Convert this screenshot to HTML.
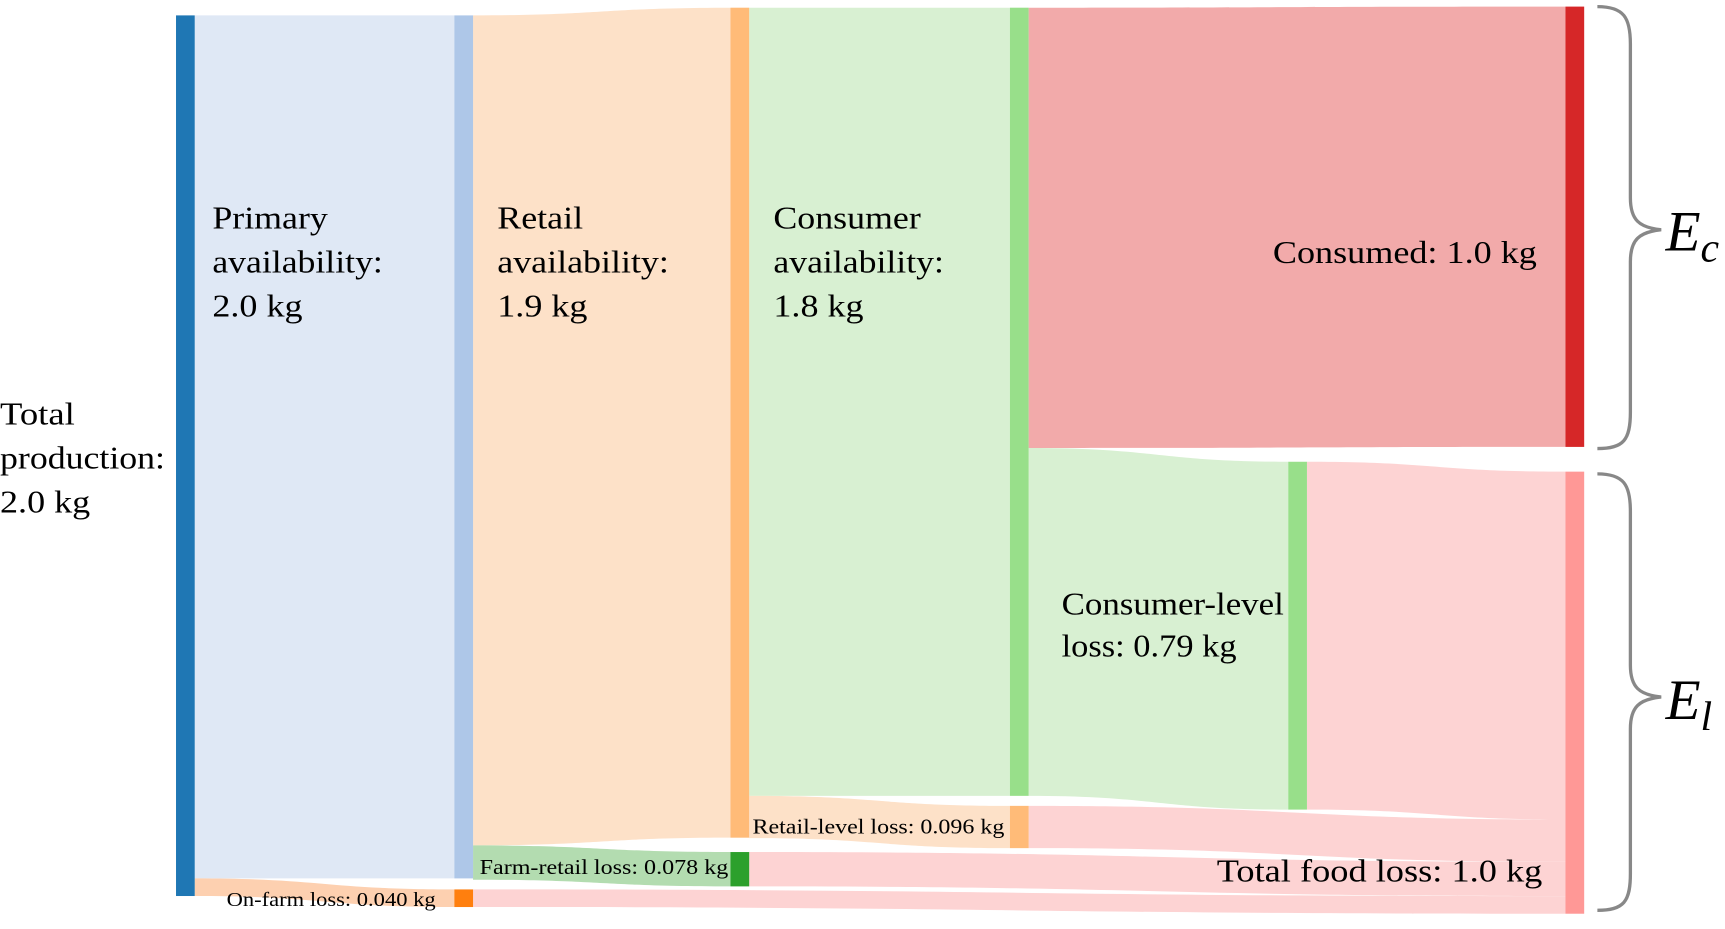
<!DOCTYPE html>
<html><head><meta charset="utf-8">
<style>
html,body{margin:0;padding:0;background:#fff;}
svg{display:block;}
text{font-family:"Liberation Serif",serif;fill:#000;}
</style></head>
<body>
<svg id="chart" width="1725" height="929" viewBox="0 0 1568 845" preserveAspectRatio="none" xmlns="http://www.w3.org/2000/svg">
<g id="links"></g>
<g id="nodes"></g>
<g id="labels" font-size="29">
  <g>
    <text x="0" y="386" textLength="68" lengthAdjust="spacingAndGlyphs">Total</text><text x="0" y="426" textLength="150" lengthAdjust="spacingAndGlyphs">production:</text><text x="0" y="466" textLength="82" lengthAdjust="spacingAndGlyphs">2.0 kg</text></g>
  <g>
    <text x="193" y="208" textLength="105" lengthAdjust="spacingAndGlyphs">Primary</text><text x="193" y="248" textLength="155" lengthAdjust="spacingAndGlyphs">availability:</text><text x="193" y="288" textLength="82" lengthAdjust="spacingAndGlyphs">2.0 kg</text></g>
  <g>
    <text x="452" y="208" textLength="78" lengthAdjust="spacingAndGlyphs">Retail</text><text x="452" y="248" textLength="156" lengthAdjust="spacingAndGlyphs">availability:</text><text x="452" y="288" textLength="82" lengthAdjust="spacingAndGlyphs">1.9 kg</text></g>
  <g>
    <text x="703" y="208" textLength="134" lengthAdjust="spacingAndGlyphs">Consumer</text><text x="703" y="248" textLength="155" lengthAdjust="spacingAndGlyphs">availability:</text><text x="703" y="288" textLength="82" lengthAdjust="spacingAndGlyphs">1.8 kg</text></g>
  <text x="1157" y="239" textLength="240" lengthAdjust="spacingAndGlyphs">Consumed: 1.0 kg</text>
  <g>
    <text x="965" y="559" textLength="202" lengthAdjust="spacingAndGlyphs">Consumer-level</text><text x="965" y="597" textLength="159" lengthAdjust="spacingAndGlyphs">loss: 0.79 kg</text></g>
  <text x="1106" y="802" textLength="296" lengthAdjust="spacingAndGlyphs">Total food loss: 1.0 kg</text>
  <text font-size="19" x="684" y="758" textLength="229" lengthAdjust="spacingAndGlyphs">Retail-level  loss: 0.096 kg</text>
  <text font-size="19" x="436" y="795" textLength="226" lengthAdjust="spacingAndGlyphs">Farm-retail  loss: 0.078 kg</text>
  <text font-size="18" x="206" y="824" textLength="190" lengthAdjust="spacingAndGlyphs">On-farm loss: 0.040 kg</text>
</g>
<g>
  <path d="M1452,6 C1476,6 1482,16 1482,40 L1482,180 C1482,200 1490,207 1510,209 C1490,211 1482,218 1482,238 L1482,375 C1482,400 1476,408 1452,408" fill="none" stroke="#888" stroke-width="3"/>
  <text x="1514" y="228" font-size="52" font-style="italic">E<tspan font-size="38" dy="10">c</tspan></text>
</g>
<g>
  <path d="M1452,431 C1476,431 1482,441 1482,465 L1482,605 C1482,625 1490,632 1510,634 C1490,636 1482,643 1482,663 L1482,795 C1482,820 1476,828 1452,828" fill="none" stroke="#888" stroke-width="3"/>
  <text x="1514" y="654" font-size="52" font-style="italic">E<tspan font-size="38" dy="10">l</tspan></text>
</g>
</svg>
<script>
// node data
const nodeNames = ["total","primary","onfarm","retail","farmretail","consumer","retaillevel","consumed","conslevel","totalloss"];
const nodeValues = [2.0, 1.96, 0.040, 1.885, 0.078, 1.79, 0.096, 1.0, 0.79, 1.004];
// link data
const linkSources = [0,0,1,1,3,3,5,5,8,6,4,2];
const linkTargets = [1,2,3,4,5,6,7,8,9,9,9,9];
const linkValues = [1.96,0.040,1.885,0.078,1.79,0.096,1.0,0.79,0.79,0.096,0.078,0.040];

// layout (not data)
const K = 400.5;
const nodeX = [160,413,413,664,664,918,918,1423,1171,1423];
const nodeTop = [14,14,809,7,775,7,733,6,420,429];
const nodeColors = ["#1f77b4","#aec7e8","#ff7f0e","#ffbb78","#2ca02c","#98df8a","#ffbb78","#d62728","#98df8a","#ff9896"];
const linkColors = ["#dfe8f5","#fdd0b0","#fde1c8","#b3dcb0","#d8f0d2","#fde1c8","#f2aaaa","#d8f0d2","#fdd3d3","#fdd3d3","#fdd3d3","#fdd3d3"];
const NW = 17;
const ns = "http://www.w3.org/2000/svg";
const h = v => v * K;
const outOff = nodeNames.map(()=>0), inOff = nodeNames.map(()=>0);
const linksG = document.getElementById('links');
linkValues.forEach((v,i)=>{
  const s=linkSources[i], t=linkTargets[i], w=h(v);
  const x0=nodeX[s]+NW, x1=nodeX[t];
  const y0=nodeTop[s]+outOff[s], y1=nodeTop[t]+inOff[t];
  outOff[s]+=w; inOff[t]+=w;
  const xm=(x0+x1)/2;
  const p=document.createElementNS(ns,'path');
  p.setAttribute('d',`M${x0},${y0} C${xm},${y0} ${xm},${y1} ${x1},${y1} L${x1},${y1+w} C${xm},${y1+w} ${xm},${y0+w} ${x0},${y0+w} Z`);
  p.setAttribute('fill',linkColors[i]);
  
  
  linksG.appendChild(p);
});
const nodesG=document.getElementById('nodes');
nodeValues.forEach((v,i)=>{
  const r=document.createElementNS(ns,'rect');
  r.setAttribute('x',nodeX[i]); r.setAttribute('y',nodeTop[i]);
  r.setAttribute('width',NW); r.setAttribute('height',h(v));
  r.setAttribute('fill',nodeColors[i]);
  
  
  nodesG.appendChild(r);
});
</script>
</body></html>
